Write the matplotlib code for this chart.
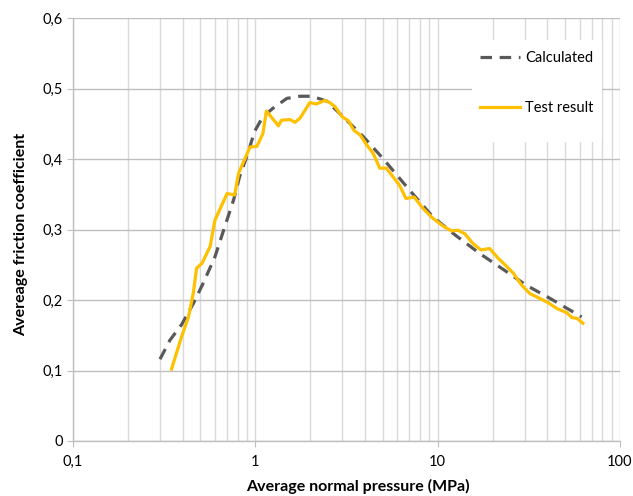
import matplotlib
matplotlib.use("Agg")
import matplotlib.pyplot as plt
from matplotlib.ticker import FixedLocator, NullFormatter
from matplotlib.patches import Rectangle

plt.rcParams['font.family'] = ['Lato', 'DejaVu Sans']

calc_x = [0.30, 0.34, 0.394, 0.457, 0.518, 0.60, 0.67, 0.76, 0.82, 0.91, 0.99, 1.10, 1.25,
          1.49, 1.76, 2.04, 2.47, 3.03, 3.9, 5.0, 7.0, 9.4, 12.5, 17.0, 23.0, 30.6, 41.5, 61.6]
calc_y = [0.116, 0.143, 0.165, 0.195, 0.224, 0.261, 0.299, 0.342, 0.375, 0.408, 0.439, 0.460, 0.472,
          0.486, 0.489, 0.489, 0.482, 0.460, 0.432, 0.401, 0.356, 0.318, 0.292, 0.266, 0.243, 0.221, 0.202, 0.176]

test_x = [0.347, 0.394, 0.43, 0.457, 0.476, 0.51, 0.565, 0.60, 0.70, 0.77, 0.81, 0.935, 1.02, 1.10,
          1.15, 1.34, 1.39, 1.55, 1.65, 1.76, 1.99, 2.16, 2.4, 2.56, 2.74, 2.99, 3.25, 3.46, 3.76,
          4.08, 4.43, 4.81, 5.23, 5.68, 6.17, 6.7, 7.43, 8.3, 9.4, 10.7, 11.9, 12.9, 14.1, 15.6,
          17.3, 19.3, 21.5, 23.4, 26.0, 28.9, 32.1, 36.5, 40.5, 45.0, 51.1, 54.5, 58.1, 62.6]
test_y = [0.102, 0.148, 0.176, 0.210, 0.245, 0.252, 0.276, 0.313, 0.351, 0.349, 0.380, 0.417, 0.418, 0.436,
          0.468, 0.447, 0.455, 0.456, 0.452, 0.458, 0.480, 0.478, 0.483, 0.480, 0.474, 0.460, 0.454, 0.441, 0.434,
          0.420, 0.408, 0.387, 0.387, 0.375, 0.363, 0.344, 0.346, 0.330, 0.316, 0.305, 0.298, 0.299, 0.294, 0.280,
          0.271, 0.273, 0.259, 0.250, 0.238, 0.221, 0.209, 0.202, 0.196, 0.188, 0.182, 0.175, 0.174, 0.167]

x_ticks = [0.1, 1, 10, 100]
x_tick_labels = ['0,1', '1', '10', '100']
y_ticks = [0, 0.1, 0.2, 0.3, 0.4, 0.5, 0.6]
y_tick_labels = ['0', '0,1', '0,2', '0,3', '0,4', '0,5', '0,6']

fig = plt.figure(figsize=(6.33, 4.96), dpi=100)
ax = fig.add_axes([73/633, 1 - 441/496, 547/633, 423/496])
ax.set_xscale('log')
ax.set_xlim(0.1, 100)
ax.set_ylim(0, 0.6)

minor = [m * d for d in (0.1, 1, 10) for m in range(2, 10)]
ax.xaxis.set_major_locator(FixedLocator(x_ticks))
ax.xaxis.set_minor_locator(FixedLocator(minor))
ax.xaxis.set_minor_formatter(NullFormatter())
ax.set_xticklabels(x_tick_labels)
ax.set_yticks(y_ticks)
ax.set_yticklabels(y_tick_labels)

ax.grid(True, which='major', axis='x', color='#d9d9d9', lw=1.0)
ax.grid(True, which='minor', axis='x', color='#d9d9d9', lw=1.0)
ax.grid(True, which='major', axis='y', color='#bfbfbf', lw=1.0)
ax.set_axisbelow(True)

for s in ('top', 'right'):
    ax.spines[s].set_visible(False)
for s in ('left', 'bottom'):
    ax.spines[s].set_color('#bfbfbf')
    ax.spines[s].set_linewidth(1.0)
ax.tick_params(axis='both', which='major', length=4, color='#bfbfbf', labelsize=10.5, labelcolor='#000000')
ax.tick_params(axis='x', which='minor', length=0)
ax.tick_params(axis='x', pad=6)

ax.plot(calc_x, calc_y, color='#595959', lw=2.3, dashes=(3.6, 2.4), dash_capstyle='butt', label='Calculated', zorder=3)
ax.plot(test_x, test_y, color='#FFC000', lw=2.3, label='Test result', zorder=4)

# white legend background
ax.add_patch(Rectangle((0.729, 0.7076), 0.2376, 0.2405, transform=ax.transAxes,
                       facecolor='white', edgecolor='none', zorder=2.5))

leg = ax.legend(loc='upper left', bbox_to_anchor=((480 - 73) / 547, (441 - 51) / 423),
                frameon=False, fontsize=10.5, borderpad=0, borderaxespad=0,
                handlelength=2.75, handletextpad=0.35, labelspacing=2.5)

ax.set_xlabel('Average normal pressure (MPa)', fontsize=11.5, fontweight='bold')
ax.set_ylabel('Avereage friction coefficient', fontsize=11.5, fontweight='bold')
ax.xaxis.set_label_coords((358 - 73) / 547, -(479 - 441) / 423)
ax.yaxis.set_label_coords(-(73 - 28) / 547, (441 - 234) / 423)

fig.savefig('out.png', dpi=100)
